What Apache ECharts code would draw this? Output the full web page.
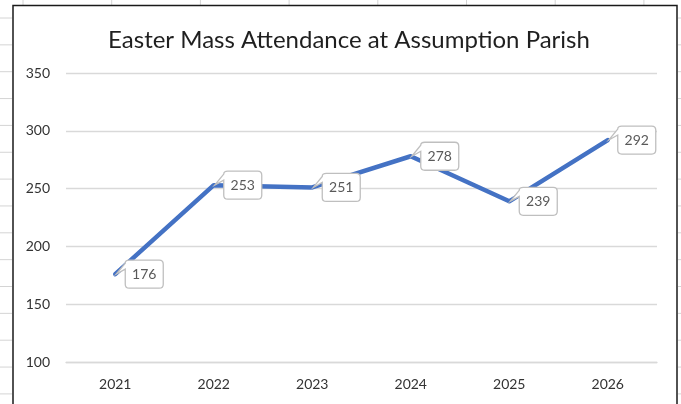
<!DOCTYPE html>
<html>
<head>
<meta charset="utf-8">
<script src="https://cdn.jsdelivr.net/npm/echarts@6/dist/echarts.min.js"></script>
<style>html,body{margin:0;padding:0;background:#fff}#c{width:681px;height:404px}</style>
</head>
<body>
<div id="c"></div>
<script>
const titleText = 'Easter Mass Attendance at Assumption Parish';
const years = ['2021', '2022', '2023', '2024', '2025', '2026'];
const attendance = [176, 253, 251, 278, 239, 292];
const yMin = 100, yMax = 350, yStep = 50;

const FONT = 'Lato';
const chart = echarts.init(document.getElementById('c'), null, {renderer: 'canvas'});

// spreadsheet cell lines outside the chart frame (decoration)
const deco = [];
for (let k = 0; k < 8; k++) {
  const x = 23 + k * 88.7;
  deco.push({type: 'line', shape: {x1: x, y1: 0, x2: x, y2: 5}, style: {stroke: '#d4d4d4', lineWidth: 1}, silent: true});
}
for (let k = 0; k < 15; k++) {
  const y = 18 + k * 26.85;
  deco.push({type: 'line', shape: {x1: 0, y1: y, x2: 12, y2: y}, style: {stroke: '#d4d4d4', lineWidth: 1}, silent: true});
  deco.push({type: 'line', shape: {x1: 678, y1: y, x2: 681, y2: y}, style: {stroke: '#d4d4d4', lineWidth: 1}, silent: true});
}
deco.push({type: 'rect', shape: {x: 13, y: 5.5, width: 664, height: 405}, style: {fill: 'none', stroke: '#1a1a1a', lineWidth: 1.5}, silent: true, z: 100});

function callout(params, api) {
  const p = api.coord([api.value(0), api.value(1)]);
  const L = p[0] + 10, T = p[1] - 14, W = 38, H = 28, r = 4;
  const R = L + W, B = T + H;
  const tipX = p[0] + 1, tipY = p[1];
  const d = `M${L + r} ${T} H${R - r} Q${R} ${T} ${R} ${T + r} V${B - r} Q${R} ${B} ${R - r} ${B} H${L + r} Q${L} ${B} ${L} ${B - r} V${T + 9} L${tipX} ${tipY} L${L} ${T + 3} Q${L} ${T} ${L + r} ${T} Z`;
  return {
    type: 'group',
    children: [
      {type: 'path', shape: {pathData: d}, style: {fill: '#fff', stroke: '#bfbfbf', lineWidth: 1.3}},
      {type: 'text', style: {text: String(api.value(1)), x: L + W / 2, y: T + H / 2 + 0.5, textAlign: 'center', textVerticalAlign: 'middle', fill: '#595959', font: '14px ' + FONT}}
    ]
  };
}

chart.setOption({
  animation: false,
  backgroundColor: '#fff',
  title: {
    text: titleText, left: 344, top: 23, textAlign: 'center',
    textStyle: {fontFamily: FONT, fontSize: 24, fontWeight: 'normal', color: '#1f1f1f'}
  },
  grid: {left: 66, right: 24, top: 73, bottom: 42, containLabel: false},
  xAxis: {
    type: 'category', data: years, boundaryGap: true,
    axisLine: {show: true, lineStyle: {color: '#d9d9d9', width: 1.3}},
    axisTick: {show: false},
    axisLabel: {color: '#333333', fontFamily: FONT, fontSize: 14, margin: 15}
  },
  yAxis: {
    type: 'value', min: yMin, max: yMax, interval: yStep,
    axisLine: {show: false}, axisTick: {show: false},
    splitLine: {lineStyle: {color: '#d9d9d9', width: 1.3}},
    axisLabel: {color: '#333333', fontFamily: FONT, fontSize: 14, margin: 16}
  },
  series: [
    {
      type: 'line', data: attendance, showSymbol: false, symbol: 'none',
      lineStyle: {color: '#4472c4', width: 4.5, cap: 'round', join: 'round'}, z: 2
    },
    {
      type: 'custom', renderItem: callout, z: 5,
      data: attendance.map((v, i) => [i, v])
    }
  ],
  graphic: deco
});
</script>
</body>
</html>
